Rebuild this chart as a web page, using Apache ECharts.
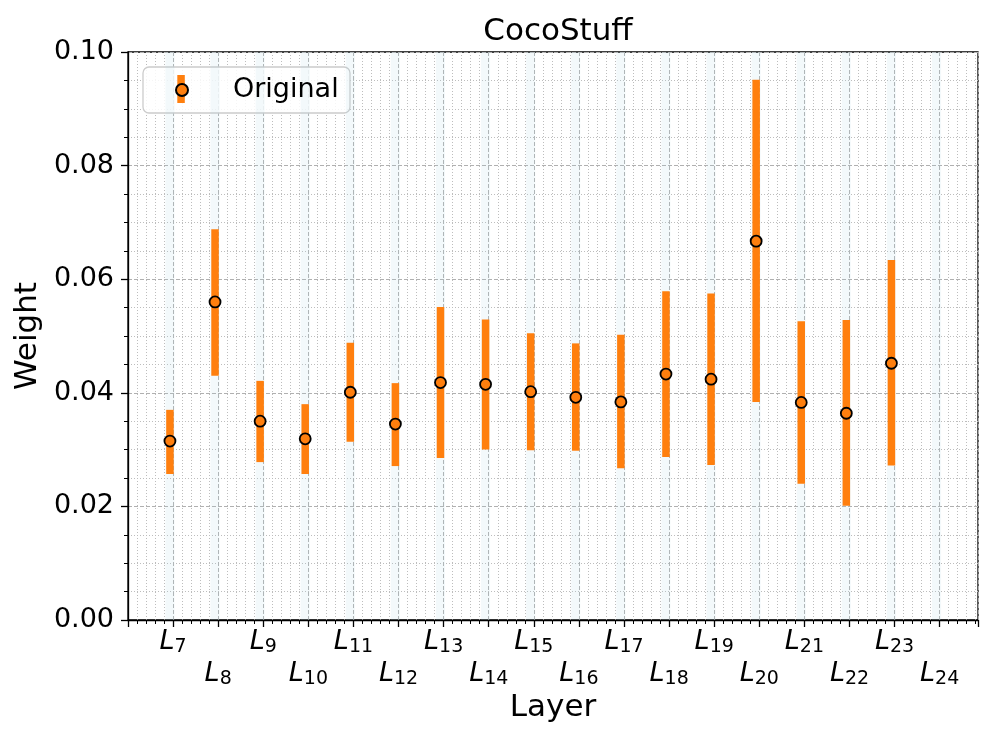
<!DOCTYPE html>
<html><head><meta charset="utf-8">
<script src="https://cdn.jsdelivr.net/npm/echarts@6/dist/echarts.min.js"></script>
<style>html,body{margin:0;padding:0;background:#fff}#c{width:997px;height:747px}</style>
</head><body><div id="c"></div>
<script>
// ---- data ----
const layers = [7, 8, 9, 10, 11, 12, 13, 14, 15, 16, 17, 18, 19, 20, 21, 22, 23, 24];
const meanW  = [0.0315, 0.0560, 0.0350, 0.0319, 0.0401, 0.0345, 0.0418, 0.0415, 0.0402, 0.0392, 0.0384, 0.0433, 0.0424, 0.0667, 0.0383, 0.0364, 0.0452, null];
const lowW   = [0.0257, 0.0430, 0.0278, 0.0257, 0.0314, 0.0271, 0.0285, 0.0300, 0.0299, 0.0298, 0.0267, 0.0287, 0.0273, 0.0384, 0.0240, 0.0201, 0.0272, null];
const highW  = [0.0370, 0.0688, 0.0421, 0.0380, 0.0488, 0.0417, 0.0551, 0.0529, 0.0505, 0.0487, 0.0502, 0.0579, 0.0575, 0.0951, 0.0526, 0.0528, 0.0634, null];
const yTicks = [0.00, 0.02, 0.04, 0.06, 0.08, 0.10];
const seriesName = 'Original';
const xOffset = -0.07;   // dodge offset of this series within each layer slot
const bandHalf = 0.1;

const FONT = 'DejaVu Sans';
const ORANGE = '#ff7f0e';

const pts = [], bars = [];
layers.forEach((l, i) => {
  if (meanW[i] == null) return;
  pts.push([l + xOffset, meanW[i]]);
  bars.push([l + xOffset, lowW[i], highW[i]]);
});
const bands = layers.map(l => [{ xAxis: l + xOffset - bandHalf }, { xAxis: l + xOffset + bandHalf }]);

function xLabel(parity) {
  return v => {
    const i = layers.indexOf(Math.round(v * 1000) / 1000);
    if (i < 0 || layers[i] % 2 !== parity) return '';
    return '{a|L}{s|' + layers[i] + '}';
  };
}
const richL = {
  a: { fontFamily: FONT, fontStyle: 'italic', fontSize: 27, lineHeight: 30, color: '#000', verticalAlign: 'middle' },
  s: { fontFamily: FONT, fontSize: 19, lineHeight: 14, color: '#000', verticalAlign: 'bottom' }
};

const majorSplit = { show: true, lineStyle: { color: '#b0b0b0', type: [4, 2], width: 1 } };
const minorSplit = { show: true, lineStyle: { color: '#bdbdbd', type: [1, 2], width: 1 } };

const xBase = { type: 'value', min: 6, max: 24.85, interval: 1, gridIndex: 0 };

const chart = echarts.init(document.getElementById('c'), null, { renderer: 'canvas' });
chart.setOption({
  animation: false,
  backgroundColor: '#fff',
  textStyle: { fontFamily: FONT },
  title: {
    text: 'CocoStuff', left: 553, top: 11, textAlign: 'center',
    textStyle: { fontFamily: FONT, fontSize: 31, fontWeight: 'normal', color: '#000' }
  },
  grid: { left: 128, right: 19, top: 52, bottom: 127, outerBoundsMode: 'none', containLabel: false,
          show: true, borderColor: '#000', borderWidth: 1.3, backgroundColor: 'transparent' },
  legend: {
    data: [{ name: seriesName, icon: 'circle' }],
    left: 143, top: 67,
    padding: [8, 12, 8, 32],
    itemWidth: 12, itemHeight: 12,
    z: 10,
    formatter: n => '{g|}' + n,
    textStyle: { fontFamily: FONT, fontSize: 27, lineHeight: 30, color: '#000', rich: { g: { width: 40 } } }
  },
  graphic: [
    { type: 'rect', z: 1, shape: { x: 143, y: 67, width: 207, height: 46, r: 6 },
      style: { fill: 'rgba(255,255,255,0.85)', stroke: '#cccccc', lineWidth: 1.3 } },
    { type: 'rect', z: 2, shape: { x: 177.3, y: 75, width: 7.5, height: 28 }, style: { fill: ORANGE } }
  ],
  xAxis: [
    Object.assign({}, xBase, {
      position: 'bottom',
      name: 'Layer', nameLocation: 'middle', nameGap: 72,
      nameTextStyle: { fontFamily: FONT, fontSize: 31, color: '#000' },
      axisLine: { show: true, onZero: false, lineStyle: { color: '#000', width: 1.3 } },
      axisTick: { show: true, length: 7, lineStyle: { color: '#000', width: 1.3 } },
      minorTick: { show: true, splitNumber: 5, length: 4, lineStyle: { color: '#000', width: 1 } },
      splitLine: majorSplit, minorSplitLine: minorSplit,
      axisLabel: { margin: 7, formatter: xLabel(1), rich: richL, showMinLabel: true, showMaxLabel: true, hideOverlap: false }
    }),
    Object.assign({}, xBase, {
      position: 'bottom',
      axisLine: { show: false }, axisTick: { show: false }, splitLine: { show: false },
      axisLabel: { margin: 39, formatter: xLabel(0), rich: richL, showMinLabel: true, showMaxLabel: true, hideOverlap: false }
    })
  ],
  yAxis: {
    type: 'value', min: yTicks[0], max: yTicks[yTicks.length - 1], interval: yTicks[1] - yTicks[0],
    name: 'Weight', nameLocation: 'middle', nameGap: 82,
    nameTextStyle: { fontFamily: FONT, fontSize: 31, color: '#000' },
    axisLine: { show: true, lineStyle: { color: '#000', width: 1.3 } },
    axisTick: { show: true, length: 7, lineStyle: { color: '#000', width: 1.3 } },
    minorTick: { show: true, splitNumber: 4, length: 4, lineStyle: { color: '#000', width: 1 } },
    splitLine: majorSplit, minorSplitLine: minorSplit,
    axisLabel: { margin: 14, fontFamily: FONT, fontSize: 27, color: '#000', formatter: v => v.toFixed(2) }
  },
  series: [
    {
      type: 'custom', name: 'err', xAxisIndex: 0, yAxisIndex: 0, z: 3,
      data: bars,
      encode: { x: 0, y: [1, 2] },
      renderItem: (params, api) => {
        const x = api.value(0);
        const p1 = api.coord([x, api.value(1)]);
        const p2 = api.coord([x, api.value(2)]);
        return { type: 'line', shape: { x1: p1[0], y1: p1[1], x2: p2[0], y2: p2[1] },
                 style: { stroke: ORANGE, lineWidth: 7.5, lineCap: 'butt' } };
      },
      markArea: { silent: true, z: 1, itemStyle: { color: 'rgba(173,216,230,0.15)' }, data: bands }
    },
    {
      type: 'scatter', name: seriesName, xAxisIndex: 0, yAxisIndex: 0, z: 5,
      data: pts, symbol: 'circle', symbolSize: 11,
      itemStyle: { color: ORANGE, borderColor: '#000', borderWidth: 1.8, opacity: 1 }
    }
  ]
});
</script>
</body></html>
